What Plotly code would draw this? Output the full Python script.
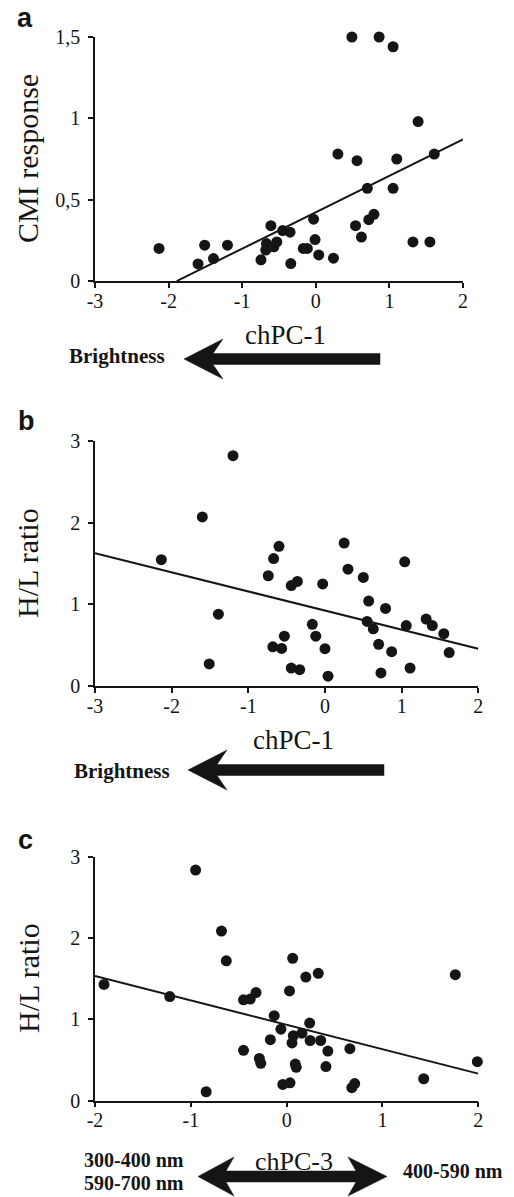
import plotly.graph_objects as go

W, H = 514, 1197

# ---------------- data ----------------
a_x = [-2.13, -1.51, -1.60, -1.39, -1.20, -0.745, -0.68, -0.67, -0.61, -0.57, -0.53, -0.45,
       -0.35, -0.34, -0.17, -0.115, -0.03, -0.01, 0.04, 0.24, 0.30, 0.49, 0.54, 0.56, 0.62,
       0.70, 0.72, 0.79, 0.86, 1.05, 1.05, 1.10, 1.32, 1.39, 1.55, 1.61]
a_y = [0.20, 0.22, 0.105, 0.138, 0.22, 0.13, 0.19, 0.23, 0.34, 0.21, 0.24, 0.31,
       0.30, 0.107, 0.20, 0.20, 0.38, 0.255, 0.16, 0.14, 0.78, 1.50, 0.34, 0.74, 0.27,
       0.57, 0.377, 0.41, 1.50, 1.44, 0.57, 0.75, 0.24, 0.98, 0.24, 0.78]
a_fit = dict(slope=0.224, intercept=0.423, x0=-1.89, x1=2.0)

b_x = [-2.135, -1.60, -1.51, -1.39, -1.20, -0.74, -0.68, -0.67, -0.60, -0.565, -0.53, -0.44,
       -0.44, -0.36, -0.33, -0.165, -0.12, -0.03, 0.0, 0.04, 0.25, 0.30, 0.50, 0.55, 0.57,
       0.63, 0.70, 0.73, 0.79, 0.87, 1.04, 1.06, 1.11, 1.32, 1.40, 1.55, 1.62]
b_y = [1.547, 2.07, 0.27, 0.88, 2.82, 1.35, 0.48, 1.56, 1.71, 0.46, 0.61, 1.23,
       0.22, 1.28, 0.20, 0.755, 0.61, 1.25, 0.457, 0.12, 1.75, 1.43, 1.33, 0.79, 1.04,
       0.70, 0.51, 0.16, 0.95, 0.42, 1.52, 0.74, 0.22, 0.82, 0.74, 0.64, 0.41]
b_fit = dict(slope=-0.2336, intercept=0.924, x0=-3.0, x1=2.0)

c_x = [-1.906, -1.22, -0.95, -0.84, -0.68, -0.63, -0.45, -0.45, -0.38, -0.32, -0.285, -0.27,
       -0.17, -0.13, -0.06, -0.04, 0.03, 0.035, 0.056, 0.063, 0.07, 0.09, 0.10, 0.16, 0.20,
       0.24, 0.245, 0.33, 0.355, 0.41, 0.43, 0.66, 0.68, 0.71, 1.43, 1.76, 1.99]
c_y = [1.43, 1.28, 2.836, 0.11, 2.086, 1.72, 1.24, 0.62, 1.25, 1.33, 0.52, 0.46,
       0.75, 1.045, 0.88, 0.20, 1.35, 0.22, 0.71, 1.75, 0.80, 0.45, 0.41, 0.83, 1.52,
       0.955, 0.74, 1.566, 0.74, 0.42, 0.61, 0.64, 0.16, 0.21, 0.27, 1.55, 0.48]
c_fit = dict(slope=-0.30, intercept=0.933, x0=-2.0, x1=2.0)

a_yticks = [0, 0.5, 1, 1.5]
a_yticklabels = ["0", "0,5", "1", "1,5"]
a_xticks = [-3, -2, -1, 0, 1, 2]
b_yticks = [0, 1, 2, 3]
b_xticks = [-3, -2, -1, 0, 1, 2]
c_yticks = [0, 1, 2, 3]
c_xticks = [-2, -1, 0, 1, 2]

# ---------------- helpers ----------------
def px_x(px):
    return px / W

def px_y(py):
    return 1 - py / H

INK = "#151515"
SERIF = "Liberation Serif, Times New Roman, serif"
SANS = "Liberation Sans, Arial, sans-serif"

fig = go.Figure()

panels = [
    dict(n="", x=a_x, y=a_y, fit=a_fit, xr=[-3, 2], yr=[0, 1.5], xt=a_xticks, yt=a_yticks,
         ytl=a_yticklabels, xdom=(95, 463), ydom=(281, 37)),
    dict(n="2", x=b_x, y=b_y, fit=b_fit, xr=[-3, 2], yr=[0, 3], xt=b_xticks, yt=b_yticks,
         ytl=[str(v) for v in b_yticks], xdom=(95, 478.3), ydom=(686, 441)),
    dict(n="3", x=c_x, y=c_y, fit=c_fit, xr=[-2, 2], yr=[0, 3], xt=c_xticks, yt=c_yticks,
         ytl=[str(v) for v in c_yticks], xdom=(95, 478.3), ydom=(1100.7, 856.7)),
]

layout_axes = {}
for p in panels:
    n = p["n"]
    f = p["fit"]
    fig.add_trace(go.Scatter(
        x=[f["x0"], f["x1"]],
        y=[f["intercept"] + f["slope"] * f["x0"], f["intercept"] + f["slope"] * f["x1"]],
        mode="lines", line=dict(color=INK, width=2), xaxis="x" + n, yaxis="y" + n,
        showlegend=False, hoverinfo="skip", cliponaxis=False))
    fig.add_trace(go.Scatter(
        x=p["x"], y=p["y"], mode="markers",
        marker=dict(color=INK, size=11, line=dict(width=0)),
        xaxis="x" + n, yaxis="y" + n, showlegend=False, cliponaxis=False))
    axcommon = dict(showline=True, linecolor=INK, linewidth=1.5, ticks="outside",
                    ticklen=5, tickwidth=1.5, tickcolor=INK, showgrid=False, zeroline=False,
                    automargin=False,
                    tickfont=dict(family=SERIF, size=20, color=INK), fixedrange=True)
    layout_axes["xaxis" + n] = dict(
        axcommon, range=p["xr"], tickvals=p["xt"], ticktext=[str(v) for v in p["xt"]],
        domain=[px_x(p["xdom"][0]), px_x(p["xdom"][1])], anchor="y" + n, ticklabelstandoff=-4)
    layout_axes["yaxis" + n] = dict(
        axcommon, range=p["yr"], tickvals=p["yt"], ticktext=p["ytl"],
        domain=[px_y(p["ydom"][0]), px_y(p["ydom"][1])], anchor="x" + n, ticklabelstandoff=4)

annotations = []

def text(s, cx, cy, size, family=SERIF, bold=False, angle=0):
    if bold:
        s = "<b>" + s + "</b>"
    annotations.append(dict(text=s, x=px_x(cx), y=px_y(cy), xref="paper", yref="paper",
                            xanchor="center", yanchor="middle", showarrow=False,
                            textangle=angle, font=dict(family=family, size=size, color=INK)))

# panel letters
text("a", 25, 18, 27, SANS, True)
text("b", 26, 421, 27, SANS, True)
text("c", 25, 840, 27, SANS, True)

# y-axis titles
text("CMI response", 28, 159, 30, angle=-90)
text("H/L ratio", 28, 563, 30, angle=-90)
text("H/L ratio", 28, 978, 30, angle=-90)

# x-axis labels and direction captions
text("chPC-1", 285, 335, 27)
text("Brightness", 116.5, 356, 21, bold=True)
text("chPC-1", 293, 740, 27)
text("Brightness", 121.5, 771, 21, bold=True)
text("chPC-3", 294, 1161, 26)
text("300-400 nm", 133.5, 1160, 20, bold=True)
text("590-700 nm", 133.5, 1183, 20, bold=True)
text("400-590 nm", 453, 1171, 20, bold=True)

# arrows as filled shapes (pixel geometry -> paper)
def poly(points):
    d = "M " + " L ".join(f"{px_x(x):.5f},{px_y(y):.5f}" for x, y in points) + " Z"
    return dict(type="path", path=d, xref="paper", yref="paper",
                fillcolor=INK, line=dict(color=INK, width=0.5))

def left_arrow(tip, tail, cy, h=5.5, bx_off=39, nx_off=29, Hh=20):
    return poly([(tip, cy), (tip + bx_off, cy - Hh), (tip + nx_off, cy - h), (tail, cy - h),
                 (tail, cy + h), (tip + nx_off, cy + h), (tip + bx_off, cy + Hh)])

shapes = [
    left_arrow(184, 380, 359),
    left_arrow(188, 384, 770),
    poly([(198, 1176.5), (234, 1157), (226, 1171), (356, 1171), (348, 1157), (387, 1176.5),
          (348, 1196), (356, 1182), (226, 1182), (234, 1196)]),
]

fig.update_layout(
    width=W, height=H, margin=dict(l=0, r=0, t=0, b=0, autoexpand=False),
    paper_bgcolor="white", plot_bgcolor="white",
    font=dict(family=SERIF, size=20, color=INK),
    annotations=annotations, shapes=shapes, **layout_axes)

fig.write_html("out.html", config={"displayModeBar": False},
               post_script="document.body.style.margin='0px';"
                           "document.body.style.overflow='hidden';")
